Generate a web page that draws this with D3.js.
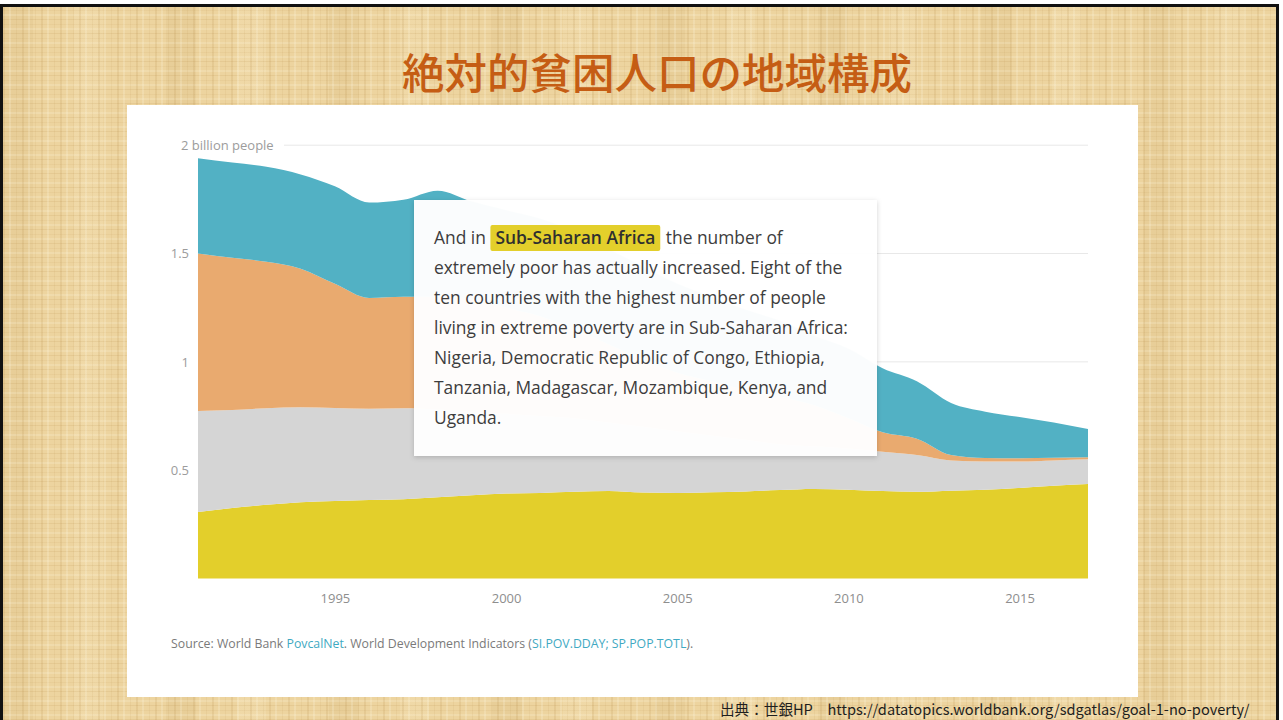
<!DOCTYPE html>
<html>
<head>
<meta charset="utf-8">
<script src="https://cdn.jsdelivr.net/npm/d3@7"></script>
<style>
  html, body { margin: 0; padding: 0; width: 1283px; height: 720px; overflow: hidden; background: #fff; }
  #slide {
    position: absolute; left: 0; top: 4px; width: 1279px; height: 716px;
    border-left: 3px solid #111; border-top: 3px solid #111; border-right: 3px solid #111;
    box-sizing: border-box;
    background-color: #edd49f;
    background-image:
      repeating-linear-gradient(90deg, rgba(170,125,55,0.13) 0 2px, transparent 2px 6px, rgba(255,250,230,0.2) 6px 8px, transparent 8px 13px, rgba(170,125,55,0.08) 13px 14px, transparent 14px 19px),
      repeating-linear-gradient(0deg, rgba(170,125,55,0.12) 0 1px, transparent 1px 4px, rgba(255,250,230,0.18) 4px 6px, transparent 6px 9px, rgba(170,125,55,0.07) 9px 10px, transparent 10px 14px),
      repeating-linear-gradient(90deg, rgba(150,110,40,0.06) 0 30px, transparent 30px 71px, rgba(255,245,215,0.14) 71px 100px, transparent 100px 163px);
  }
  svg { position: absolute; left: 0; top: 0; }
</style>
</head>
<body>
<div id="slide"></div>
<svg id="chart" width="1283" height="720"></svg>
<script>
// ---- data ----
const years = [1991,1992,1993,1994,1995,1996,1997,1998,1999,2000,2001,2002,2003,2004,2005,2006,2007,2008,2009,2010,2011,2012,2013,2014,2015,2016,2017];
// billions of people living in extreme poverty, by region (stacked bottom -> top)
const subSaharanAfrica = [0.307,0.325,0.340,0.352,0.358,0.362,0.366,0.375,0.384,0.392,0.395,0.400,0.404,0.397,0.395,0.398,0.402,0.408,0.413,0.410,0.404,0.400,0.405,0.410,0.418,0.428,0.436];
const greyRegion      = [0.466,0.453,0.446,0.438,0.429,0.422,0.420,0.405,0.386,0.368,0.355,0.340,0.316,0.303,0.285,0.262,0.238,0.212,0.197,0.190,0.181,0.170,0.140,0.130,0.122,0.117,0.114];
const orangeRegion    = [0.727,0.702,0.676,0.640,0.573,0.511,0.514,0.520,0.520,0.490,0.460,0.410,0.360,0.310,0.270,0.250,0.230,0.220,0.190,0.140,0.090,0.075,0.025,0.016,0.015,0.012,0.010];
const tealRegion      = [0.440,0.440,0.438,0.435,0.450,0.440,0.448,0.490,0.450,0.450,0.450,0.450,0.440,0.430,0.410,0.390,0.370,0.350,0.320,0.320,0.295,0.265,0.240,0.214,0.190,0.163,0.130];
const seriesKeys = ["ssa","grey","orange","teal"];
const seriesColors = ["#e3cf2b","#d5d5d5","#e9aa6f","#52b1c4"];
const yTickValues = [0.5, 1, 1.5, 2];
const xTickValues = [1995, 2000, 2005, 2010, 2015];

const titleText = "絶対的貧困人口の地域構成";
const tooltipLines = [
  ["And in ", "Sub-Saharan Africa", " the number of"],
  ["extremely poor has actually increased. Eight of the"],
  ["ten countries with the highest number of people"],
  ["living in extreme poverty are in Sub-Saharan Africa:"],
  ["Nigeria, Democratic Republic of Congo, Ethiopia,"],
  ["Tanzania, Madagascar, Mozambique, Kenya, and"],
  ["Uganda."]
];

const table = years.map((yr, i) => ({
  year: yr, ssa: subSaharanAfrica[i], grey: greyRegion[i], orange: orangeRegion[i], teal: tealRegion[i]
}));

const svg = d3.select("#chart");

// drop shadow filter
const defs = svg.append("defs");
const f = defs.append("filter").attr("id","shadow").attr("x","-10%").attr("y","-10%").attr("width","120%").attr("height","125%");
f.append("feDropShadow").attr("dx",0).attr("dy",1.5).attr("stdDeviation",2.5).attr("flood-color","#000").attr("flood-opacity",0.18);

// title
svg.append("text")
  .attr("x", 657).attr("y", 89)
  .attr("text-anchor","middle")
  .style("font-family","'Noto Sans CJK JP', sans-serif")
  .style("font-size","42.5px").style("font-weight","500")
  .style("fill","#c55d14")
  .text(titleText);

// white panel
svg.append("rect").attr("x",127).attr("y",105).attr("width",1011).attr("height",592).attr("fill","#fff");

// scales
const x = d3.scaleLinear().domain([1991, 2017]).range([198, 1088]);
const y = d3.scaleLinear().domain([0, 2]).range([578.5, 145.2]);

// gridlines
svg.append("g").selectAll("line").data(yTickValues).join("line")
  .attr("x1", d => d === 2 ? 284 : x(1991))
  .attr("x2", x(2017))
  .attr("y1", d => y(d)).attr("y2", d => y(d))
  .attr("stroke","#e8e8e8").attr("stroke-width",1);

// stacked areas
const stack = d3.stack().keys(seriesKeys);
const layers = stack(table);
const area = d3.area()
  .x(d => x(d.data.year))
  .y0(d => y(d[0]))
  .y1(d => y(d[1]))
  .curve(d3.curveMonotoneX);
svg.append("g").selectAll("path").data(layers).join("path")
  .attr("d", area)
  .attr("fill", (d, i) => seriesColors[i]);

// y axis
const yAxis = d3.axisLeft(y).tickValues(yTickValues).tickSize(0).tickPadding(9)
  .tickFormat(d => d === 2 ? "2 billion people" : d3.format("")(d));
const gy = svg.append("g").attr("transform", `translate(${x(1991)},0)`).call(yAxis);
gy.select(".domain").remove();
gy.selectAll("text")
  .style("font-family","'Open Sans', sans-serif").style("font-size","13px").style("fill","#9c9c9c")
  .filter(d => d === 2).attr("text-anchor","start").attr("x", -17);

// x axis
const xAxis = d3.axisBottom(x).tickValues(xTickValues).tickSize(0).tickPadding(15).tickFormat(d3.format("d"));
const gx = svg.append("g").attr("transform", `translate(0,${y(0)})`).call(xAxis);
gx.select(".domain").remove();
gx.selectAll("text").style("font-family","'Open Sans', sans-serif").style("font-size","13px").style("fill","#8e8e8e");

// tooltip box
const tip = svg.append("g");
tip.append("rect").attr("x",414).attr("y",200).attr("width",463).attr("height",256)
  .attr("fill","#fff").attr("fill-opacity",0.97).attr("filter","url(#shadow)");
const lineH = 30, tx = 434, ty0 = 244;
tooltipLines.forEach((parts, i) => {
  const t = tip.append("text").attr("x", tx).attr("y", ty0 + i * lineH)
    .style("font-family","'Open Sans', sans-serif").style("font-size","17.4px").style("fill","#3d3d3d");
  if (parts.length === 1) { t.text(parts[0]); return; }
  t.append("tspan").text(parts[0]);
  t.append("tspan").attr("dx", 5).attr("class","hl").style("font-weight","600").style("fill","#2f2f2f").text(parts[1]);
  t.append("tspan").attr("dx", 6).text(parts[2]);
});
// highlight behind bold words
const hl = tip.select(".hl").node();
if (hl) {
  const ext = hl.getExtentOfChar(0);
  const n = hl.getNumberOfChars();
  const last = hl.getExtentOfChar(n - 1);
  tip.insert("rect", "text")
    .attr("x", ext.x - 5).attr("y", 225)
    .attr("width", last.x + last.width - ext.x + 10).attr("height", 26)
    .attr("rx", 2).attr("fill", "#e3cf2b");
}

// source line
const src = svg.append("text").attr("x",171).attr("y",648)
  .style("font-family","'Open Sans', sans-serif").style("font-size","12.3px").style("fill","#7a7a7a");
src.append("tspan").text("Source: World Bank ");
src.append("tspan").style("fill","#3fa9c2").text("PovcalNet");
src.append("tspan").text(". World Development Indicators (");
src.append("tspan").style("fill","#3fa9c2").text("SI.POV.DDAY; SP.POP.TOTL");
src.append("tspan").text(").");

// attribution
svg.append("text").attr("x",720).attr("y",715)
  .style("font-family","'Noto Sans CJK JP', sans-serif").style("font-size","14.6px").style("fill","#1e1e1e")
  .text("出典：世銀HP　https://datatopics.worldbank.org/sdgatlas/goal-1-no-poverty/");
</script>
</body>
</html>
